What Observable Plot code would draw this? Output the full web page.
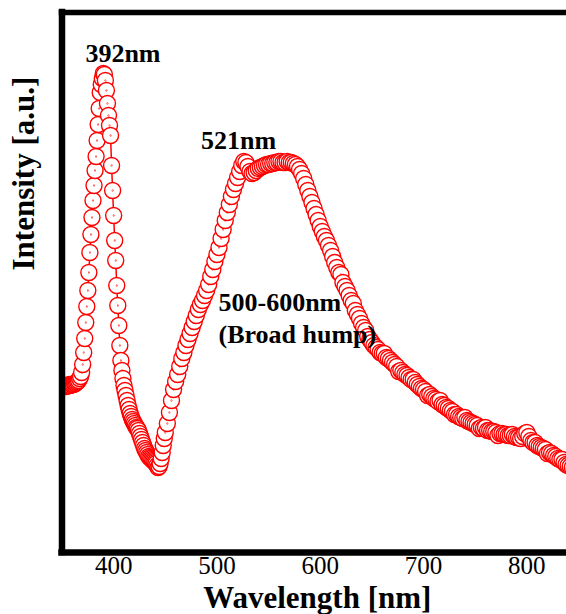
<!DOCTYPE html>
<html>
<head>
<meta charset="utf-8">
<script src="https://cdn.jsdelivr.net/npm/d3@7"></script>
<script src="https://cdn.jsdelivr.net/npm/@observablehq/plot@0.6"></script>
<style>
  html, body { margin: 0; padding: 0; background: #fff; }
</style>
</head>
<body>
<div id="chart"></div>
<script>
// Wavelength samples (nm)
const wavelengths = [
  350,351,352,353,354,355,356,357,358,359,
  360,361,362,363,364,365,366,367,368,369,
  370,371,372,373,374,375,376,377,378,379,
  380,381,382,383,384,385,386,387,388,389,
  390,391,392,393,394,395,396,397,398,399,
  400,401,402,403,404,405,406,407,408,409,
  410,411,412,413,414,415,416,417,418,419,
  420,421,422,423,424,425,426,427,428,429,
  430,431,432,433,434,435,436,437,438,439,
  440,441,442,443,444,445,446,447,448,449,450,
  452,454,456,458,460,462,464,466,468,470,
  472,474,476,478,480,482,484,486,488,490,
  492,494,496,498,500,502,504,506,508,510,
  512,514,516,518,520,522,524,526,528,530,
  532,534,536,538,540,542,544,546,548,550,
  552,554,556,558,560,562,564,566,568,570,
  572,574,576,578,580,582,584,586,588,590,
  592,594,596,598,600,602,604,606,608,610,
  612,614,616,618,620,622,624,626,628,630,
  632,634,636,638,640,642,644,646,648,650,
  652,654,656,658,660,662,664,666,668,670,
  672,674,676,678,680,682,684,686,688,690,
  692,694,696,698,700,702,704,706,708,710,
  712,714,716,718,720,722,724,726,728,730,
  732,734,736,738,740,742,744,746,748,750,
  752,754,756,758,760,762,764,766,768,770,
  772,774,776,778,780,782,784,786,788,790,
  792,794,796,798,800,802,804,806,808,810,
  812,814,816,818,820,822,824,826,828,830,
  832,834,836,838,840,842,844,846,848,850
];

// Intensity (arbitrary units)
const intensity = [
  167,166,166,167,166,167,167,168,167,168,
  168,168,169,169,170,171,172,174,176,180,
  188,200,214,230,246,262,280,300,318,335,
  352,367,382,396,412,428,444,460,468,474,
  479,478,472,462,449,437,427,417,387,362,
  337,312,292,267,247,227,207,192,182,174,
  167,162,157,152,147,143,139,136,133,131,
  129,127,125,124,122,119,116,113,110,107,
  104,102,100,98,96,95,94,93,92,91,
  90,89,87,85,86,89,94,100,107,114,120,
  129,140,152,163,171,178,186,194,200,207,
  213,219,225,231,237,243,248,252,257,262,
  268,276,283,291,298,305,314,323,332,340,
  348,356,363,369,375,381,387,391,390,386,
  381,379,380,382,384,385,386,387,388,388,
  389,389,390,390,391,391,390,390,391,390,
  390,389,388,386,383,379,374,368,362,356,
  350,344,338,332,326,321,316,312,307,302,
  296,290,285,280,278,270,266,262,257,252,
  249,242,238,234,229,225,222,216,213,210,
  207,205,203,200,199,199,195,194,192,190,
  188,186,181,182,180,178,177,175,173,173,
  170,168,166,164,163,161,157,158,156,154,
  153,151,152,148,147,145,144,142,141,138,
  138,136,135,134,135,132,131,130,129,128,
  127,124,125,124,125,122,122,121,121,120,
  117,119,119,118,118,117,117,118,116,115,
  115,114,116,119,120,116,112,110,110,107,
  106,105,104,103,99,100,99,97,96,94,
  93,93,90,88,87,86,85,84,83,82
];

const xTicks = [400, 500, 600, 700, 800];
const xLabel = "Wavelength [nm]";
const yLabel = "Intensity [a.u.]";

// Peak annotations
const peakLabels = ["392nm", "521nm"];
const peakLabelX = [409, 521];
const peakLabelY = [499, 412];
const humpLabels = ["500-600nm", "(Broad hump)"];
const humpLabelX = [501.5, 501.5];
const humpLabelY = [250, 218];

const data = wavelengths.map((w, i) => ({w, v: intensity[i]}));
const peaks = peakLabels.map((t, i) => ({t, x: peakLabelX[i], y: peakLabelY[i]}));
const hump = humpLabels.map((t, i) => ({t, x: humpLabelX[i], y: humpLabelY[i]}));

// open circle with a tiny centre dot
const ring = {
  draw(ctx, size) {
    const r = Math.sqrt(size / Math.PI);
    ctx.moveTo(r, 0);
    ctx.arc(0, 0, r, 0, 2 * Math.PI);
    ctx.moveTo(0.25, 0);
    ctx.arc(0, 0, 0.25, 0, 2 * Math.PI);
  }
};

const serif = "'Liberation Serif', 'Times New Roman', Times, serif";

const chart = Plot.plot({
  width: 566,
  height: 614,
  marginLeft: 61.5,
  marginRight: 0,
  marginTop: 12,
  marginBottom: 62,
  x: {domain: [350, 838.4]},
  y: {domain: [0, 540], axis: null},
  style: {fontFamily: serif, background: "white", color: "black", overflow: "visible"},
  marks: [
    Plot.line(data, {x: "w", y: "v", stroke: "#ff0000", strokeWidth: 1.5, clip: true}),
    Plot.dot(data, {x: "w", y: "v", r: 8, symbol: ring, stroke: "#ff0000", fill: "white", strokeWidth: 1.4, clip: true}),
    Plot.axisX({ticks: xTicks, tickSize: 0, tickPadding: 4, fontSize: 25, label: null, fill: "black"}),
    Plot.ruleX([350], {stroke: "black", strokeWidth: 6.5, strokeLinecap: "square"}),
    Plot.ruleY([0], {stroke: "black", strokeWidth: 6.5, strokeLinecap: "square"}),
    Plot.ruleY([540], {stroke: "black", strokeWidth: 5.5, strokeLinecap: "square"}),
    Plot.text(peaks, {x: "x", y: "y", text: "t", fontSize: 26, fontWeight: "bold", fill: "black", textAnchor: "middle", lineAnchor: "middle"}),
    Plot.text(hump, {x: "x", y: "y", text: "t", fontSize: 26, fontWeight: "bold", fill: "black", textAnchor: "start", lineAnchor: "middle"}),
    Plot.text([xLabel], {frameAnchor: "bottom", dx: 3, dy: 45.5, fontSize: 31, fontWeight: "bold", fill: "black", lineAnchor: "middle"}),
    Plot.text([yLabel], {frameAnchor: "left", rotate: -90, dx: -38, dy: -12, fontSize: 31, fontWeight: "bold", fill: "black", lineAnchor: "middle"})
  ]
});

document.getElementById("chart").appendChild(chart);
</script>
</body>
</html>
